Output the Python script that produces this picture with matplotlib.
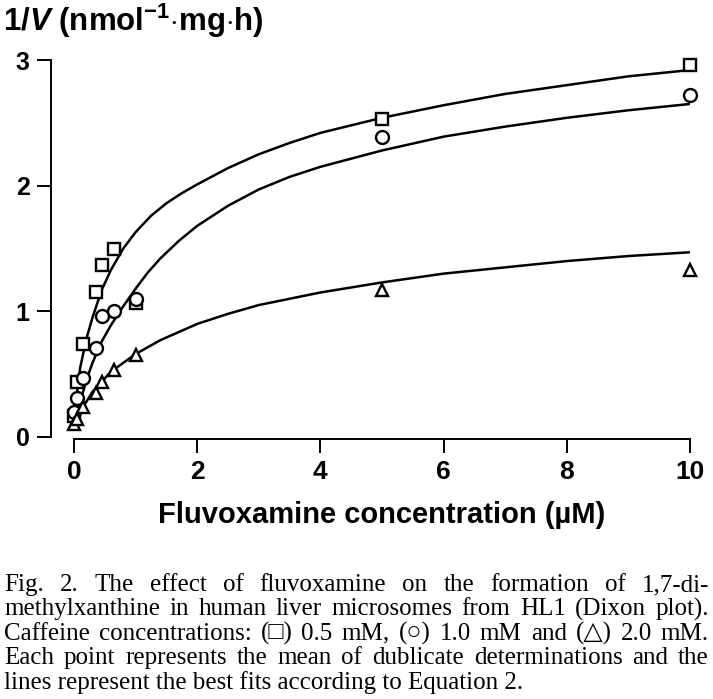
import matplotlib
matplotlib.use('Agg')
import matplotlib.pyplot as plt

plt.rcParams['font.family'] = ['Liberation Sans', 'DejaVu Sans']
plt.rcParams['mathtext.fontset'] = 'custom'
plt.rcParams['mathtext.rm'] = 'Liberation Sans:bold'
plt.rcParams['mathtext.it'] = 'Liberation Sans:italic:bold'

# measured points (fluvoxamine uM vs 1/V)
conc = [0, 0.05, 0.15, 0.35, 0.45, 0.65, 1, 5, 10]
sq_y = [0.17, 0.44, 0.74, 1.15, 1.37, 1.50, 1.07, 2.53, 2.96]
ci_y = [0.20, 0.31, 0.47, 0.71, 0.96, 1.00, 1.10, 2.39, 2.72]
tr_y = [0.10, 0.14, 0.24, 0.35, 0.44, 0.53, 0.65, 1.17, 1.33]

# fitted curves
sq_fit_x = [0, 0.05, 0.1, 0.2, 0.3, 0.45, 0.6, 0.8, 1.0, 1.25, 1.5, 1.75, 2, 2.5, 3, 3.5, 4, 5, 6, 7, 8, 9, 10]
sq_fit_y = [0.12, 0.36, 0.55, 0.78, 0.95, 1.17, 1.33, 1.50, 1.63, 1.76, 1.86, 1.94, 2.01, 2.14, 2.25, 2.34, 2.42, 2.54, 2.64, 2.73, 2.80, 2.87, 2.92]
ci_fit_x = [0, 0.1, 0.2, 0.3, 0.45, 0.6, 0.8, 1.0, 1.2, 1.4, 1.7, 2, 2.5, 3, 3.5, 4, 5, 6, 7, 8, 9, 10]
ci_fit_y = [0.10, 0.28, 0.45, 0.59, 0.76, 0.89, 1.04, 1.18, 1.31, 1.42, 1.56, 1.68, 1.84, 1.97, 2.07, 2.15, 2.28, 2.39, 2.47, 2.54, 2.60, 2.65]
tr_fit_x = [0, 0.1, 0.3, 0.6, 1, 1.4, 2, 2.5, 3, 4, 5, 6, 7, 8, 9, 10]
tr_fit_y = [0.10, 0.20, 0.36, 0.52, 0.66, 0.77, 0.90, 0.98, 1.05, 1.15, 1.23, 1.30, 1.35, 1.40, 1.44, 1.47]

caption = [
    "Fig. 2. The effect of fluvoxamine on the formation of 1,7-di-",
    "methylxanthine in human liver microsomes from HL1 (Dixon plot).",
    "Caffeine concentrations: (\u25a1) 0.5 mM, (\u25cb) 1.0 mM and (\u25b3) 2.0 mM.",
    "Each point represents the mean of dublicate determinations and the",
    "lines represent the best fits according to Equation 2.",
]

fig = plt.figure(figsize=(7.13, 6.99), dpi=100)
ax = fig.add_axes([74/713, 262/699, 616/713, 377/699])

lw = 1.8
ax.plot(sq_fit_x, sq_fit_y, color='black', lw=lw)
ax.plot(ci_fit_x, ci_fit_y, color='black', lw=lw)
ax.plot(tr_fit_x, tr_fit_y, color='black', lw=lw)

mk = dict(ls='none', mfc='white', mec='black', mew=1.7, clip_on=False, zorder=3)
ax.plot(conc, sq_y, marker='s', ms=9.3, **mk)
ax.plot(conc, ci_y, marker='o', ms=9.3, **mk)
ax.plot(conc, tr_y, marker='^', ms=8.8, **mk)

ax.set_xlim(0, 10)
ax.set_ylim(0, 3)
ax.spines['top'].set_visible(False)
ax.spines['right'].set_visible(False)
ax.spines['left'].set_position(('outward', 16.5))
ax.spines['bottom'].set_position(('outward', 1.5))
for s in ('left', 'bottom'):
    ax.spines[s].set_linewidth(1.4)
ax.set_xticks([0, 2, 4, 6, 8, 10])
ax.set_yticks([0, 1, 2, 3])
ax.tick_params(direction='out', length=10, width=1.4)
ax.tick_params(axis='x', labelsize=19, pad=5)
ax.tick_params(axis='y', labelsize=18, pad=5.5)
for lab in ax.get_xticklabels() + ax.get_yticklabels():
    lab.set_fontweight('bold')
ax.set_xlabel('Fluvoxamine concentration (\u00b5M)', fontsize=21, fontweight='bold', labelpad=12)

fig.text(3/713, 1 - 21/699, r'1/$\mathit{V}$ (nmol$^{\mathregular{-1}}$$\cdot$mg$\cdot$h)',
         fontsize=22.5, fontweight='bold', ha='left', va='center')

# caption, justified
renderer = fig.canvas.get_renderer()
cap_font = dict(family=['Liberation Serif', 'DejaVu Serif'], fontsize=18)
left_px, right_px = 4, 709
for i, line in enumerate(caption):
    ypx = 585 + i * 24.4
    yf = 1 - ypx / 699
    if i == len(caption) - 1:
        fig.text(left_px / 713, yf, line, ha='left', va='center', **cap_font)
        continue
    words = line.split(' ')
    tobjs = [fig.text(0, yf, w, ha='left', va='center', **cap_font) for w in words]
    widths = [t.get_window_extent(renderer).width for t in tobjs]
    gap = (right_px - left_px - sum(widths)) / (len(words) - 1)
    x = left_px
    for t, w in zip(tobjs, widths):
        t.set_x(x / 713)
        x += w + gap

fig.savefig('out.png', dpi=100)
